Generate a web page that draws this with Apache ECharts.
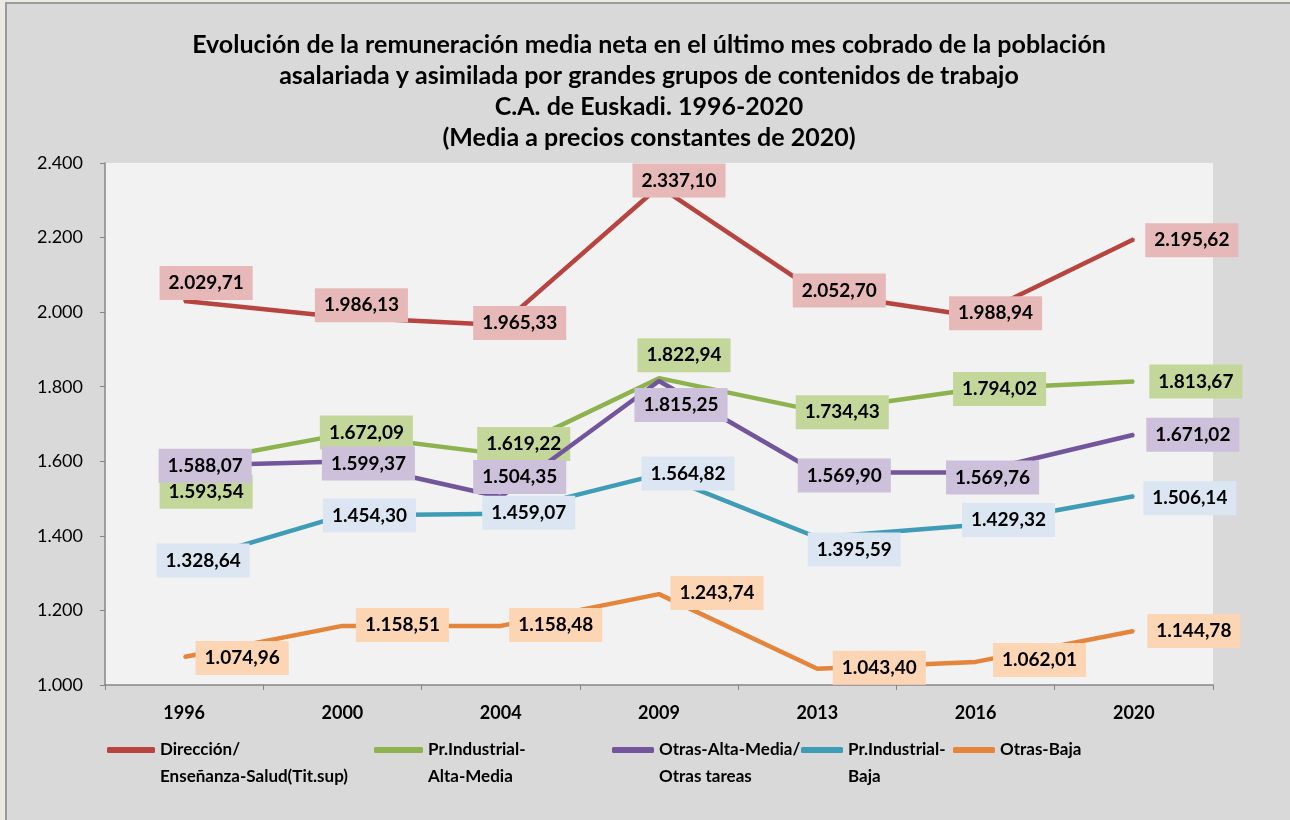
<!DOCTYPE html>
<html>
<head>
<meta charset="utf-8">
<script src="https://cdn.jsdelivr.net/npm/echarts@6/dist/echarts.min.js"></script>
<style>
  html, body { margin:0; padding:0; background:#d9d9d9; overflow:hidden; }
  #chart { position:absolute; left:0; top:0; width:1290px; height:820px; }
  .strip { position:absolute; pointer-events:none; }
</style>
</head>
<body>
<div id="chart"></div>
<div class="strip" style="left:0;top:0;width:5px;height:820px;background:#ece8e2;"></div>
<div class="strip" style="left:0;top:0;width:1290px;height:2px;background:#ece8e2;"></div>
<div class="strip" style="left:5px;top:2px;width:2px;height:818px;background:#9a9a9a;"></div>
<div class="strip" style="left:5px;top:2px;width:1285px;height:2px;background:#9a9a9a;"></div>
<script>
const categories = ['1996', '2000', '2004', '2009', '2013', '2016', '2020'];
const seriesNames = ['Dirección/\nEnseñanza-Salud(Tit.sup)', 'Pr.Industrial-\nAlta-Media', 'Otras-Alta-Media/\nOtras tareas', 'Pr.Industrial-\nBaja', 'Otras-Baja'];
const direccion = [2029.71, 1986.13, 1965.33, 2337.10, 2052.70, 1988.94, 2195.62];
const prIndAltaMedia = [1593.54, 1672.09, 1619.22, 1822.94, 1734.43, 1794.02, 1813.67];
const otrasAltaMedia = [1588.07, 1599.37, 1504.35, 1815.25, 1569.90, 1569.76, 1671.02];
const prIndBaja = [1328.64, 1454.30, 1459.07, 1564.82, 1395.59, 1429.32, 1506.14];
const otrasBaja = [1074.96, 1158.51, 1158.48, 1243.74, 1043.40, 1062.01, 1144.78];
const yTicks = [1000, 1200, 1400, 1600, 1800, 2000, 2200, 2400];

const seriesData = [direccion, prIndAltaMedia, otrasAltaMedia, prIndBaja, otrasBaja];
const lineColors = ['#b7443f', '#8db24e', '#72559a', '#3f9cb7', '#e5853b'];
const labelBgs = ['#e6b9b8', '#c4d79b', '#ccc0da', '#dce6f2', '#fcd5b5'];
// label offsets (px) relative to each point
const labelOffsets = [
  [[22,-18],[19,-12],[19,-2],[20,-6],[22,-2],[20,-3],[58,1]],
  [[22,28],[24,-2],[23,-10],[25,-23],[25,1],[24,0],[62,0]],
  [[21,0],[26,2],[19,-20],[22,24],[27,3],[17,5],[59,0]],
  [[19,-2],[27,0],[28,-1],[29,-1],[37,12],[33,-5],[56,2]],
  [[58,1],[60,-1],[55,-1],[58,-1],[62,-1],[64,-2],[60,0]]
];
const legendLefts = [107, 374, 612, 801, 953];
const legendIconW = [48, 49, 42, 42, 42];
const LEGEND_Y = 750, LEGEND_LH = 27;

const FONT = 'Lato, "Open Sans", "Liberation Sans", sans-serif';

function fmtEs(v, dec) {
  const s = v.toFixed(dec);
  const parts = s.split('.');
  const intPart = parts[0].replace(/\B(?=(\d{3})+(?!\d))/g, '.');
  return dec > 0 ? intPart + ',' + parts[1] : intPart;
}

const chart = echarts.init(document.getElementById('chart'), null, { renderer: 'canvas' });

const series = seriesData.map((arr, si) => ({
  name: seriesNames[si],
  type: 'line',
  z: 2 + si,
  data: arr.map((v, i) => ({
    value: v,
    label: { offset: labelOffsets[si][i] }
  })),
  symbol: 'circle',
  symbolSize: 2,
  showSymbol: true,
  itemStyle: { color: lineColors[si] },
  lineStyle: { color: lineColors[si], width: 4.5 },
  label: {
    show: true,
    position: 'inside',
    formatter: p => fmtEs(p.value, 2),
    backgroundColor: labelBgs[si],
    color: '#000',
    fontFamily: FONT,
    fontWeight: 'bold',
    fontSize: 19,
    lineHeight: 20,
    padding: [7, 9]
  },
  emphasis: { disabled: true },
  animation: false
}));

const legends = seriesNames.map((n, i) => {
  const multi = n.indexOf('\n') >= 0;
  return {
    data: [{ name: n, icon: 'roundRect' }],
    left: legendLefts[i],
    top: multi ? LEGEND_Y - 1.5 * LEGEND_LH : LEGEND_Y - 0.5 * LEGEND_LH,
    padding: 0,
    itemWidth: legendIconW[i],
    itemHeight: 6,
    itemGap: 0,
    selectedMode: false,
    formatter: name => (name.indexOf('\n') >= 0 ? '\n' + name : name),
    textStyle: {
      fontFamily: FONT,
      fontWeight: 'bold',
      fontSize: 17,
      lineHeight: LEGEND_LH,
      color: '#000'
    }
  };
});

chart.setOption({
  backgroundColor: '#d9d9d9',
  animation: false,
  title: {
    text: 'Evolución de la remuneración media neta en el último mes cobrado de la población\nasalariada y asimilada por grandes grupos de contenidos de trabajo\nC.A. de Euskadi. 1996-2020\n(Media a precios constantes de 2020)',
    left: 644,
    textAlign: 'center',
    top: 24,
    textStyle: {
      fontFamily: FONT,
      fontWeight: 'bold',
      fontSize: 25,
      lineHeight: 31,
      color: '#000'
    }
  },
  legend: legends,
  grid: {
    left: 105, top: 163, right: 77, bottom: 135,
    show: true, backgroundColor: '#f2f2f2', borderWidth: 0
  },
  xAxis: {
    type: 'category',
    data: categories,
    boundaryGap: true,
    axisLine: { lineStyle: { color: '#868686', width: 1.5 } },
    axisTick: { show: true, alignWithLabel: false, length: 5, lineStyle: { color: '#868686' } },
    axisLabel: { fontFamily: FONT, fontWeight: 'bold', fontSize: 18, color: '#000', margin: 19 },
    splitLine: { show: false }
  },
  yAxis: {
    type: 'value',
    min: yTicks[0],
    max: yTicks[yTicks.length - 1],
    interval: 200,
    axisLine: { show: true, lineStyle: { color: '#868686', width: 1.5 } },
    axisTick: { show: true, length: 5, lineStyle: { color: '#868686' } },
    axisLabel: { fontFamily: FONT, fontSize: 18, color: '#000', margin: 22, formatter: v => fmtEs(v, 0) },
    splitLine: { show: false }
  },
  series: series
});
</script>
</body>
</html>
